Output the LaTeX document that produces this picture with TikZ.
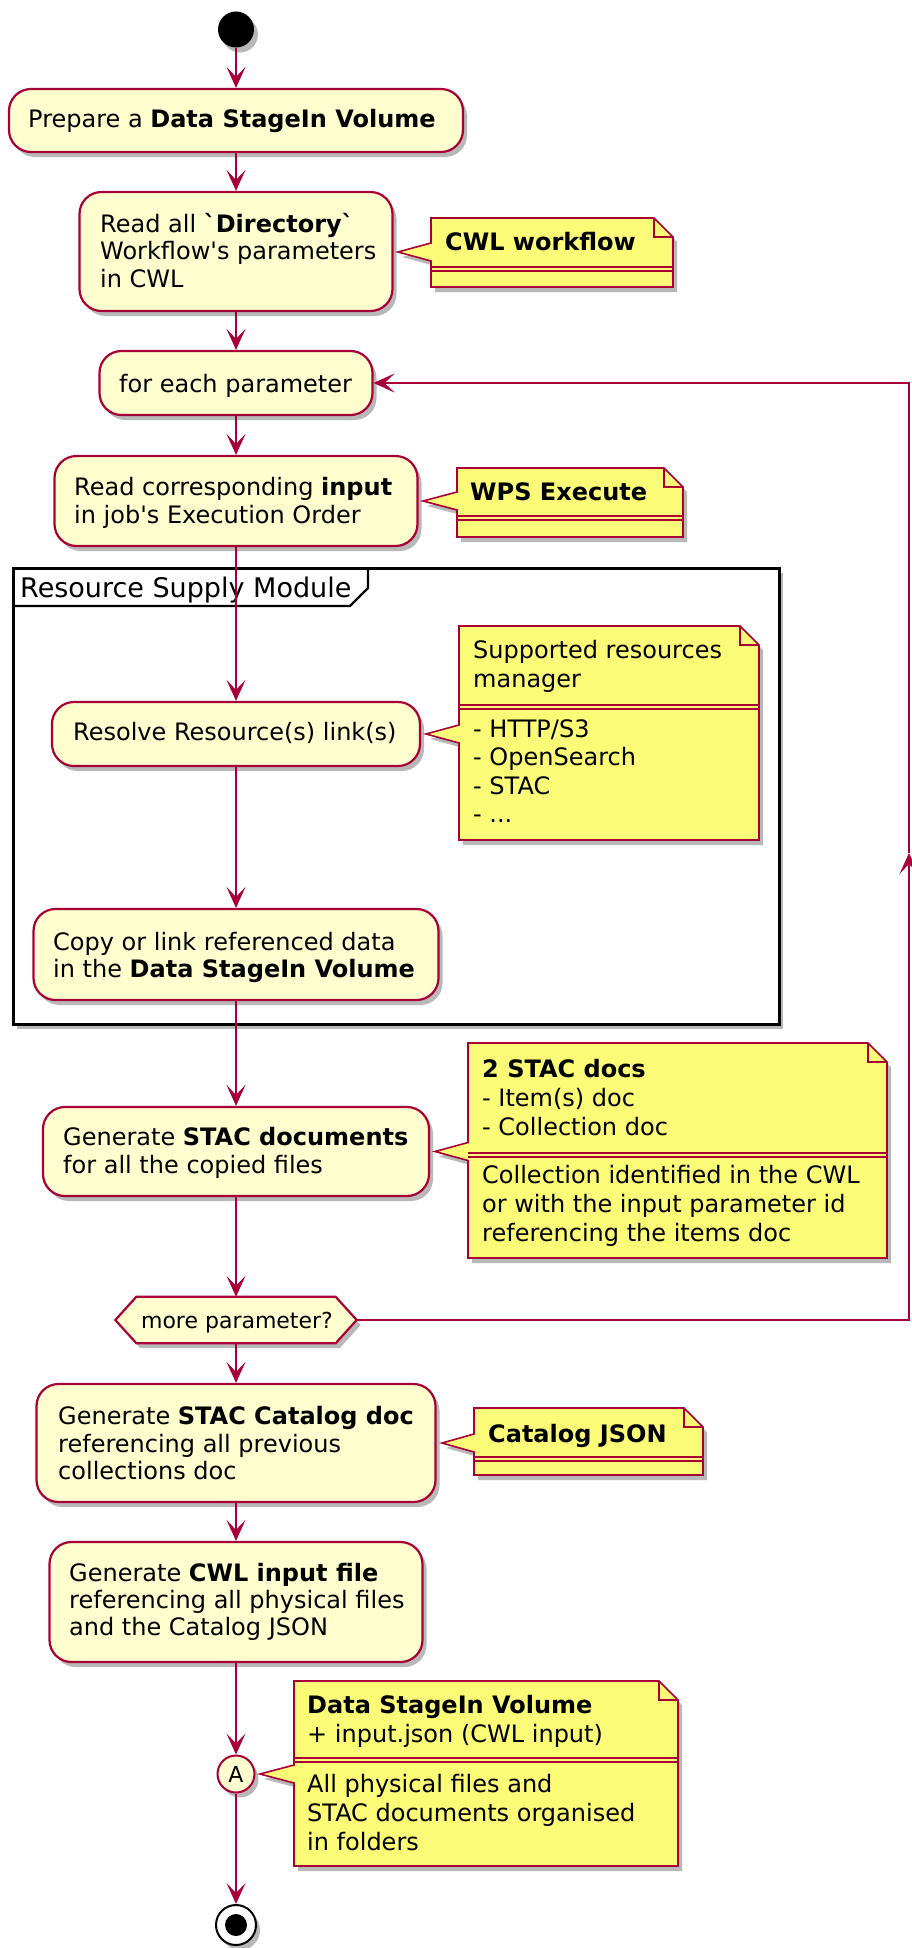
\documentclass[tikz,border=0pt]{standalone}
\usepackage{fontspec}
\setmainfont{DejaVu Sans}
\usetikzlibrary{arrows.meta,shadows}
\definecolor{plred}{HTML}{A80036}
\definecolor{actfill}{HTML}{FEFECE}
\definecolor{notefill}{HTML}{FBFB77}
\tikzset{
  shad/.style={drop shadow={shadow xshift=4pt, shadow yshift=-5pt, opacity=0.28, fill=black}},
  act/.style={draw=plred, fill=actfill, line width=2.2pt, rounded corners=22pt, inner sep=0pt, shad},
  flow/.style={draw=plred, line width=2pt, -{Stealth[length=21pt,width=19pt,inset=10pt]}},
  link/.style={draw=plred, line width=2pt},
  notebody/.style={draw=plred, fill=notefill, line width=1.6pt, line join=miter, shad},
  noteline/.style={draw=plred, line width=1.6pt},
  atxt/.style={anchor=base west, inner sep=0pt, font=\fontsize{24}{27.5}\selectfont},
  ntxt/.style={anchor=base west, inner sep=0pt, font=\fontsize{24}{29}\selectfont},
}
\newcommand\plnote[6]{% L R T B tipy tipx
  \path[notebody] (#1,#3) -- (#2-19,#3) -- (#2,#3+19) -- (#2,#4) -- (#1,#4)
     -- (#1,#5+9) -- (#6,#5) -- (#1,#5-9) -- cycle;
  \draw[noteline] (#2-19,#3) -- (#2-19,#3+19) -- (#2,#3+19);}
\newcommand\plsep[3]{% L R y
  \draw[noteline] (#1,#3) -- (#2,#3);
  \draw[noteline] (#1,#3+4) -- (#2,#3+4);}
\begin{document}
\begin{tikzpicture}[x=1pt,y=-1pt]
\fill[white] (0,0) rectangle (912,1948);
\useasboundingbox (0,0) rectangle (912,1948);

% frame
\path[draw=black, line width=3pt, fill=white, shad] (13,568) rectangle (779,1024);
\draw[black, line width=2.4pt] (13,606) -- (350,606) -- (368,588) -- (368,568);
\node[anchor=base west, inner sep=0pt, font=\fontsize{27}{27}\selectfont] (frametitle) at (20,597) {Resource Supply Module};

% start / end
\node[circle, fill=black, minimum size=36pt, inner sep=0pt, shad] (start) at (236,29.5) {};

% activities
\node[act, minimum width=454pt, minimum height=63pt] (prep) at (236,120.5) {};
\node[act, minimum width=313pt, minimum height=119pt] (readall) at (236,251.5) {};
\node[act, minimum width=273pt, minimum height=64pt] (foreach) at (236,383) {};
\node[act, minimum width=363pt, minimum height=90pt] (readcorr) at (236,501) {};
\node[act, minimum width=368pt, minimum height=64pt] (resolve) at (236,734) {};
\node[act, minimum width=405pt, minimum height=91pt] (copy) at (236,954.5) {};
\node[act, minimum width=386pt, minimum height=89pt] (gen) at (236,1151.5) {};
\node[act, minimum width=399pt, minimum height=118pt] (catalog) at (236,1443) {};
\node[act, minimum width=373pt, minimum height=120pt] (cwlin) at (236,1602) {};

% hexagon
\node[minimum width=241pt, minimum height=46pt, inner sep=0pt] (hex) at (236,1320) {};
\path[draw=plred, fill=actfill, line width=2.2pt, line join=miter, shad]
  (hex.west) -- ([xshift=21pt]hex.north west) -- ([xshift=-21pt]hex.north east) -- (hex.east)
  -- ([xshift=-21pt]hex.south east) -- ([xshift=21pt]hex.south west) -- cycle;
\node[anchor=base, inner sep=0pt, font=\fontsize{22}{22}\selectfont] (hext) at (237,1328) {more parameter?};

\node[circle, draw=plred, fill=actfill, line width=2pt, minimum size=37pt, inner sep=0pt, shad,
      font=\fontsize{22}{22}\selectfont] (conA) at (236,1774) {A};
\node[circle, draw=black, fill=white, line width=2pt, minimum size=40pt, inner sep=0pt, shad] (stop) at (236,1925) {};
\node[circle, fill=black, minimum size=22pt, inner sep=0pt] (stopdot) at (236,1925) {};

% activity texts
\node[atxt] (prep-t) at (28,128) {Prepare a \textbf{Data StageIn Volume}};
\node[atxt] (readall-1) at (100,232) {Read all \textbf{\textasciigrave Directory\textasciigrave}};
\node[atxt] (readall-2) at (100,259.5) {Workflow\textquotesingle s parameters};
\node[atxt] (readall-3) at (100,287) {in CWL};
\node[atxt] (foreach-t) at (119,392) {for each parameter};
\node[atxt] (readcorr-1) at (74,495.5) {Read corresponding \textbf{input}};
\node[atxt] (readcorr-2) at (74,523) {in job\textquotesingle s Execution Order};
\node[atxt] (resolve-t) at (73,740) {Resolve Resource(s) link(s)};
\node[atxt] (copy-1) at (53,950) {Copy or link referenced data};
\node[atxt] (copy-2) at (53,977) {in the \textbf{Data StageIn Volume}};
\node[atxt] (gen-1) at (63,1145) {Generate \textbf{STAC documents}};
\node[atxt] (gen-2) at (63,1173) {for all the copied files};
\node[atxt] (catalog-1) at (58,1424) {Generate \textbf{STAC Catalog doc}};
\node[atxt] (catalog-2) at (58,1452) {referencing all previous};
\node[atxt] (catalog-3) at (58,1479.5) {collections doc};
\node[atxt] (cwlin-1) at (69,1581) {Generate \textbf{CWL input file}};
\node[atxt] (cwlin-2) at (69,1608) {referencing all physical files};
\node[atxt] (cwlin-3) at (69,1635.5) {and the Catalog JSON};

% connectors
\coordinate (loopBR) at (909,1320);
\coordinate (loopMid) at (909,853);
\coordinate (loopTR) at (909,383);
\draw[flow] (start) -- (prep);
\draw[flow] (prep) -- (readall);
\draw[flow] (readall) -- (foreach);
\draw[flow] (foreach) -- (readcorr);
\draw[flow] (readcorr) -- (resolve);
\draw[flow] (resolve) -- (copy);
\draw[flow] (copy) -- (gen);
\draw[flow] (gen.south) -- (hex.north);
\draw[flow] (hex.south) -- (catalog.north);
\draw[flow] (catalog) -- (cwlin);
\draw[flow] (cwlin) -- (conA);
\draw[flow] (conA) -- (stop);
\draw[flow] (hex.east) -- (loopBR) -- (loopMid);
\draw[flow] (loopMid) -- (loopTR) -- (foreach.east);

% notes
\plnote{431}{673}{218}{287}{252}{398}
\plsep{431}{673}{267}
\node[ntxt] (cwlnote) at (445,250) {\textbf{CWL workflow}};

\plnote{457}{683}{468}{537}{501}{423}
\plsep{457}{683}{516}
\node[ntxt] (wpsnote) at (470,500) {\textbf{WPS Execute}};

\plnote{459}{759}{626}{840}{734}{426}
\plsep{459}{759}{705}
\node[ntxt] (sup-1) at (473,658) {Supported resources};
\node[ntxt] (sup-2) at (473,687) {manager};
\node[ntxt] (sup-3) at (473,737) {- HTTP/S3};
\node[ntxt] (sup-4) at (473,765.5) {- OpenSearch};
\node[ntxt] (sup-5) at (473,794) {- STAC};
\node[ntxt] (sup-6) at (473,822.5) {- ...};

\plnote{468}{887}{1043}{1258}{1151.5}{435}
\plsep{468}{887}{1153}
\node[ntxt] (stac-1) at (482,1077) {\textbf{2 STAC docs}};
\node[ntxt] (stac-2) at (482,1106) {- Item(s) doc};
\node[ntxt] (stac-3) at (482,1135) {- Collection doc};
\node[ntxt] (stac-4) at (482,1183) {Collection identified in the CWL};
\node[ntxt] (stac-5) at (482,1212) {or with the input parameter id};
\node[ntxt] (stac-6) at (482,1241) {referencing the items doc};

\plnote{474}{703}{1408}{1475}{1443}{442}
\plsep{474}{703}{1457}
\node[ntxt] (catnote) at (488,1442) {\textbf{Catalog JSON}};

\plnote{294}{678}{1681}{1866}{1774}{260}
\plsep{294}{678}{1758}
\node[ntxt] (data-1) at (307,1713) {\textbf{Data StageIn Volume}};
\node[ntxt] (data-2) at (307,1742) {+ input.json (CWL input)};
\node[ntxt] (data-3) at (307,1792) {All physical files and};
\node[ntxt] (data-4) at (307,1821) {STAC documents organised};
\node[ntxt] (data-5) at (307,1850) {in folders};
\end{tikzpicture}
\end{document}
